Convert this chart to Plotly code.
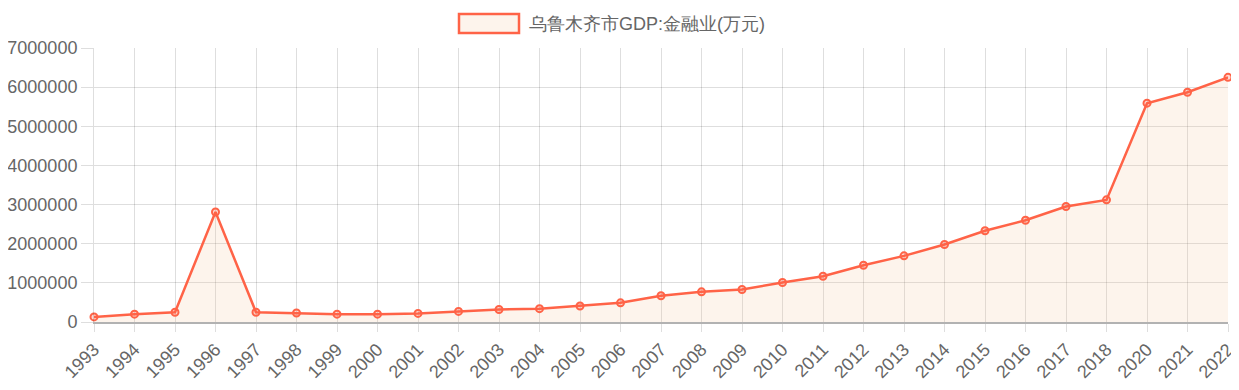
import plotly.graph_objects as go

years = ["1993", "1994", "1995", "1996", "1997", "1998", "1999", "2000", "2001", "2002",
         "2003", "2004", "2005", "2006", "2007", "2008", "2009", "2010", "2011", "2012",
         "2013", "2014", "2015", "2016", "2017", "2018", "2020", "2021", "2022"]
values = [130000, 200000, 250000, 2810000, 250000, 230000, 200000, 200000, 220000, 270000,
          320000, 340000, 410000, 490000, 670000, 770000, 830000, 1010000, 1170000, 1450000,
          1690000, 1980000, 2330000, 2600000, 2950000, 3120000, 5590000, 5870000, 6250000]
series_name = "乌鲁木齐市GDP:金融业(万元)"
y_ticks = [0, 1000000, 2000000, 3000000, 4000000, 5000000, 6000000, 7000000]

line_color = "#ff6347"
fill_color = "rgba(245,200,160,0.2)"
font_family = "Liberation Sans, Arial, sans-serif"
text_color = "#666"
grid = "rgba(0,0,0,0.13)"

fig = go.Figure()
fig.add_trace(go.Scatter(
    x=years, y=values, name=series_name,
    mode="lines+markers", fill="tozeroy", fillcolor=fill_color,
    line=dict(color=line_color, width=2.5),
    marker=dict(size=7, color="rgba(255,99,71,0.25)", line=dict(color=line_color, width=2)),
    showlegend=False, cliponaxis=False,
))

# page body has an 8px default margin; margins compensate so the plot area
# sits at the same place as in the reference viewport
fig.update_layout(
    width=1239, height=390,
    margin=dict(l=86, r=19, t=40, b=76, autoexpand=False),
    paper_bgcolor="white", plot_bgcolor="white",
    font=dict(family=font_family, size=18, color=text_color),
    xaxis=dict(
        type="category", range=[0, len(years) - 1], automargin=False,
        showgrid=True, gridcolor=grid, gridwidth=1,
        tickangle=-45, ticks="outside", ticklen=8, tickcolor=grid,
        showline=True, linecolor="rgba(0,0,0,0.3)", linewidth=2,
        zeroline=False, tickfont=dict(size=18, color=text_color),
    ),
    yaxis=dict(
        range=[0, 7000000], tickvals=y_ticks, ticktext=[str(v) for v in y_ticks],
        automargin=False,
        showgrid=True, gridcolor=grid, gridwidth=1,
        ticks="outside", ticklen=12, tickcolor=grid,
        showline=True, linecolor=grid, linewidth=1,
        zeroline=False, tickfont=dict(size=18, color=text_color),
    ),
    shapes=[dict(
        type="rect", xref="paper", yref="paper",
        x0=(459 - 94) / 1134, x1=(519 - 94) / 1134,
        y0=(322 - 33) / 274, y1=(322 - 14) / 274,
        line=dict(color=line_color, width=2.5), fillcolor=fill_color,
    )],
    annotations=[dict(
        text=series_name, xref="paper", yref="paper",
        x=(527 - 94) / 1134, y=(322 - 23.5) / 274, xanchor="left", yanchor="middle",
        showarrow=False, font=dict(family=font_family, size=18, color=text_color),
    )],
)

fig.write_html("out.html")
